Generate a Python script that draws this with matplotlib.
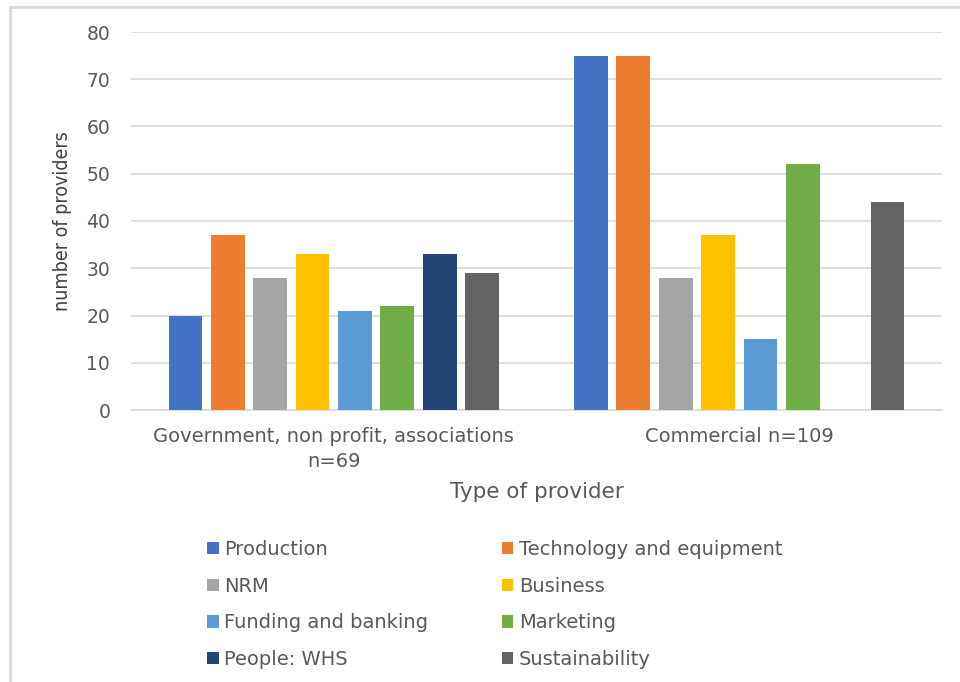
import matplotlib
matplotlib.use("Agg")
import matplotlib.pyplot as plt
from matplotlib.patches import Rectangle
import numpy as np

categories = ["Government, non profit, associations\nn=69", "Commercial n=109"]
series = ["Production", "Technology and equipment", "NRM", "Business",
          "Funding and banking", "Marketing", "People: WHS", "Sustainability"]
values = {
    "Production": [20, 75],
    "Technology and equipment": [37, 75],
    "NRM": [28, 28],
    "Business": [33, 37],
    "Funding and banking": [21, 15],
    "Marketing": [22, 52],
    "People: WHS": [33, 0],
    "Sustainability": [29, 44],
}
colors = ["#4472C4", "#ED7D31", "#A5A5A5", "#FFC000", "#5B9BD5", "#70AD47", "#264478", "#636363"]
yticks = [0, 10, 20, 30, 40, 50, 60, 70, 80]

plt.rcParams['font.family'] = ['DejaVu Sans']
W, H = 960, 682
fig = plt.figure(figsize=(W/100, H/100), dpi=100)
ax = fig.add_axes([131/W, 1-410/H, (942-131)/W, (410-32)/H])

x = np.arange(len(categories))
slot = 0.1045
bw = 0.083
n = len(series)
for i, s in enumerate(series):
    off = (i - (n-1)/2) * slot
    vals = values[s]
    ax.bar(x + off, vals, width=bw, color=colors[i], label=s, zorder=3)

ax.set_xlim(-0.5, 1.5)
ax.set_ylim(0, 80)
ax.set_yticks(yticks)
ax.set_xticks(x)
ax.set_xticklabels(categories, fontsize=14, color="#595959", linespacing=1.4)
ax.tick_params(axis='y', labelsize=13.5, labelcolor="#595959", length=0, pad=15)
ax.tick_params(axis='x', length=0, pad=12)
ax.grid(axis='y', color="#d9d9d9", linewidth=1.2, zorder=0)
for sp in ["top", "right", "left"]:
    ax.spines[sp].set_visible(False)
ax.spines["bottom"].set_color("#d9d9d9")
ax.spines["bottom"].set_linewidth(1.2)

ax.set_ylabel("number of providers", fontsize=14, color="#404040",
              fontstretch='condensed', labelpad=10)
ax.set_xlabel("Type of provider", fontsize=15.5, color="#595959", labelpad=8)

handles, labels = ax.get_legend_handles_labels()
order = [0, 2, 4, 6, 1, 3, 5, 7]
leg = fig.legend([handles[i] for i in order], [labels[i] for i in order],
                 loc='upper left', bbox_to_anchor=(207/W, 1-540/H),
                 ncol=2, frameon=False, fontsize=14, labelcolor="#595959",
                 handlelength=0.6, handleheight=0.6, handletextpad=0.3,
                 columnspacing=3.76, labelspacing=0.91, borderpad=0, borderaxespad=0)

fig.patches.append(Rectangle((10/W, -0.1), 1.1, 1 - 7/H + 0.1, transform=fig.transFigure,
                             fill=False, edgecolor="#d9d9d9", linewidth=2))

fig.savefig("out.png", dpi=100)
